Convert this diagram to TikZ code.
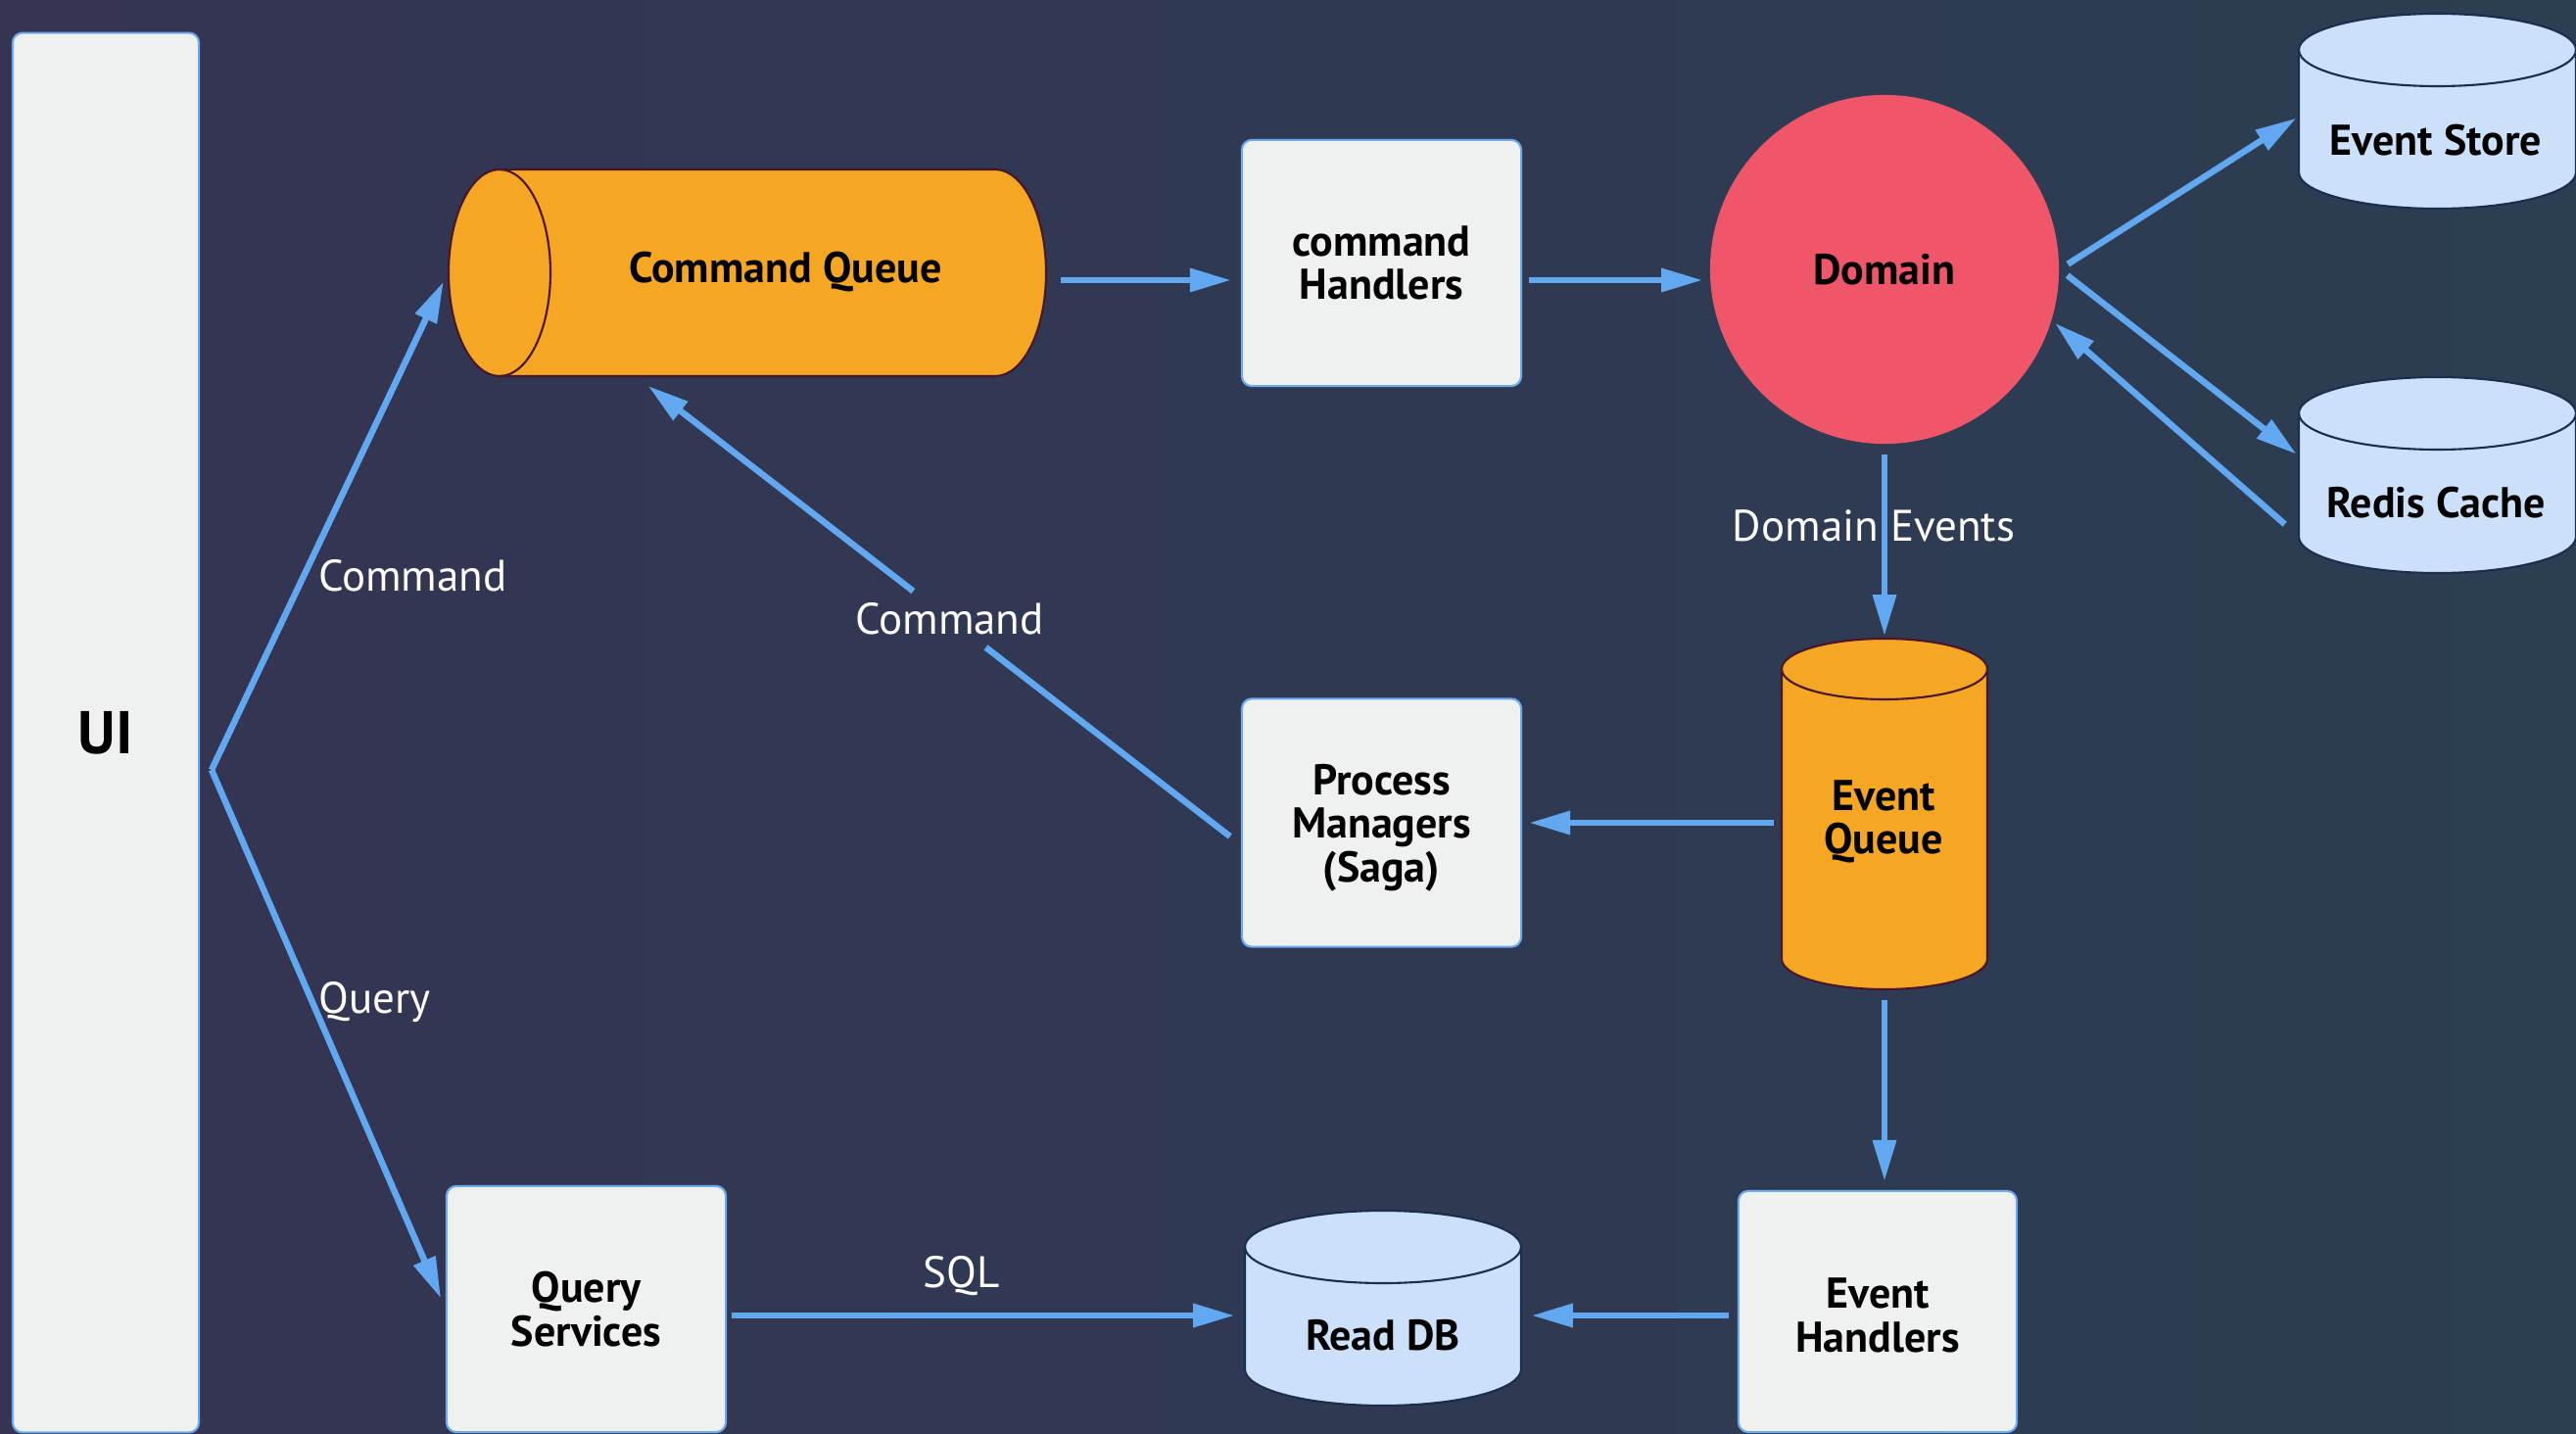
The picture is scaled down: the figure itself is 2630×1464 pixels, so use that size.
\documentclass[tikz,border=0pt]{standalone}
\usepackage{fontspec}
\setmainfont{PT Sans}
\usetikzlibrary{arrows.meta,calc}

\definecolor{bgleft}{RGB}{53,52,83}
\definecolor{bgright}{RGB}{43,62,82}
\definecolor{boxfill}{RGB}{239,241,240}
\definecolor{boxline}{RGB}{110,170,238}
\definecolor{orangefill}{RGB}{245,166,35}
\definecolor{orangeline}{RGB}{74,22,44}
\definecolor{dbfill}{RGB}{204,225,249}
\definecolor{dbline}{RGB}{26,46,78}
\definecolor{domainred}{RGB}{240,86,106}
\definecolor{flow}{RGB}{98,168,240}

% upright cylinder: style, centre x, top y, bottom y, x radius, y radius
\newcommand{\uprightcyl}[6]{%
  \path[#1] (#2-#5,#3+#6) -- (#2-#5,#4-#6)
    arc[start angle=180,end angle=0,x radius=#5,y radius=#6]
    -- (#2+#5,#3+#6)
    arc[start angle=0,end angle=-180,x radius=#5,y radius=#6] -- cycle;
  \path[#1,fill=none] (#2-#5,#3+#6)
    arc[start angle=180,end angle=0,x radius=#5,y radius=#6];
}

\begin{document}
\begin{tikzpicture}[x=0.01cm, y=-0.01cm,
  shapebox/.style={rectangle, inner sep=0pt, draw=none},
  nodetext/.style={text=black, align=center,
    font=\bfseries\fontsize{12.5}{12.6}\selectfont},
  box/.style={rectangle, rounded corners=0.1cm, draw=boxline,
    line width=0.6pt, fill=boxfill, inner sep=0pt, nodetext},
  orangecyl/.style={fill=orangefill, draw=orangeline, line width=0.6pt},
  dbcyl/.style={fill=dbfill, draw=dbline, line width=0.6pt},
  flowline/.style={draw=flow, line width=1.85pt},
  flowarrow/.style={flowline, -{Triangle[length=0.42cm, width=0.23cm]}},
  flowlabel/.style={text=white, font=\fontsize{12.8}{14}\selectfont}]

% canvas
\useasboundingbox (0,0) rectangle (2630,1464);
\shade[left color=bgleft, right color=bgright] (0,0) rectangle (2630,1464);

% UI column
\node[box, minimum width=1.90cm, minimum height=14.28cm,
  font=\bfseries\fontsize{17.5}{19}\selectfont] (ui) at (108,748) {UI};

% Command Queue (horizontal cylinder)
\path[orangecyl] (510,173) -- (1016,173)
  arc[start angle=-90,end angle=90,x radius=52,y radius=105.5]
  -- (510,384)
  arc[start angle=90,end angle=270,x radius=52,y radius=105.5] -- cycle;
\path[orangecyl,fill=none] (510,173)
  arc[start angle=-90,end angle=90,x radius=52,y radius=105.5];
\node[shapebox, minimum width=6.10cm, minimum height=2.11cm] (cq) at (763,278.5) {};
\node[nodetext] (cq-text) at (802,278) {Command Queue};

% handlers and managers
\node[box, minimum width=2.85cm, minimum height=2.51cm] (ch) at (1410.5,268.5) {command\\Handlers};
\node[box, minimum width=2.85cm, minimum height=2.53cm] (pm) at (1410.5,840) {};
\node[nodetext] (pm-text) at (1410.5,845) {Process\\Managers\\(Saga)};
\node[box, minimum width=2.85cm, minimum height=2.51cm] (qs) at (598.5,1336.5) {Query\\Services};
\node[box, minimum width=2.84cm, minimum height=2.46cm] (eh) at (1917,1339) {};
\node[nodetext] (eh-text) at (1917,1343) {Event\\Handlers};

% Domain
\node[circle, fill=domainred, minimum size=3.56cm, inner sep=0pt, nodetext] (dom) at (1924,275) {Domain};

% Event Store
\uprightcyl{dbcyl}{2488.5}{14}{213}{141.5}{37}
\node[shapebox, minimum width=2.83cm, minimum height=1.99cm] (es) at (2488.5,113.5) {};
\node[nodetext] (es-text) at (2487,143) {Event Store};

% Redis Cache
\uprightcyl{dbcyl}{2488.5}{385}{585}{141.5}{37}
\node[shapebox, minimum width=2.83cm, minimum height=2.00cm] (rc) at (2488.5,485) {};
\node[nodetext] (rc-text) at (2487,513) {Redis Cache};

% Event Queue
\uprightcyl{orangecyl}{1924}{652}{1010}{105}{31}
\node[shapebox, minimum width=2.10cm, minimum height=3.58cm] (eq) at (1924,831) {};
\node[nodetext] (eq-text) at (1923,839) {Event\\Queue};

% Read DB
\uprightcyl{dbcyl}{1412}{1236}{1435}{141}{37}
\node[shapebox, minimum width=2.82cm, minimum height=1.99cm] (rdb) at (1412,1335.5) {};
\node[nodetext] (rdb-text) at (1412,1363) {Read DB};

% connector rows and fork
\coordinate (fork) at (216,786);
\coordinate (row1) at (0,286);
\coordinate (row3) at (0,1343);

% UI fan-out
\draw[flowarrow, shorten >=0.1cm] (fork) --
  node[flowlabel, pos=0.39, anchor=west] (lbl-cmd1) {Command} (cq.west);
\draw[flowarrow, shorten >=0.12cm] (fork) --
  node[flowlabel, pos=0.43, anchor=west, xshift=-0.08cm] (lbl-query) {Query} (qs.west);

% command path
\draw[flowarrow, shorten <=0.14cm, shorten >=0.1cm] (cq.east |- row1) -- (ch.west |- row1);
\draw[flowarrow, shorten <=0.07cm, shorten >=0.07cm] (ch.east |- row1) -- (dom.west |- row1);

% domain to stores
\draw[flowarrow, shorten <=0.1cm, shorten >=0.02cm] (dom.east) -- ($(es.west)+(0,6)$);
\draw[flowarrow, shorten <=0.1cm, shorten >=0.02cm] (dom.east) -- ($(rc.west)+(0,-20)$);
\draw[flowarrow, shorten <=0.18cm, shorten >=0.04cm] ($(rc.west)+(0,62)$) -- (dom.-17.6);

% domain events
\draw[flowarrow, shorten <=0.1cm, shorten >=0.02cm] (dom.south) --
  node[flowlabel, pos=0.42, xshift=-0.11cm] (lbl-domev) {Domain Events} (eq.north);
\draw[flowarrow, shorten <=0.07cm, shorten >=0.07cm] (eq.west |- pm.east) -- (pm.east);
\draw[flowarrow, shorten <=0.1cm, shorten >=0.09cm] (eq.south) -- (eq.south |- eh.north);

% read side
\draw[flowarrow, shorten <=0.09cm, shorten >=0.1cm] (eh.west |- row3) -- (rdb.east |- row3);
\draw[flowarrow, shorten <=0.05cm, shorten >=0.1cm] (qs.east |- row3) --
  node[flowlabel, pos=0.453, above=0.05cm] (lbl-sql) {SQL} (rdb.west |- row3);

% saga issues commands
\coordinate (sagaout) at ($(pm.west)+(0,22.5)$);
\coordinate (cqin) at ($(cq.south west)!0.315!(cq.south east)$);
\node[flowlabel] (lbl-cmd2) at ($(sagaout)!0.482!(cqin)$) {Command};
\draw[flowline, shorten <=0.14cm] (sagaout) -- (lbl-cmd2);
\draw[flowarrow, shorten >=0.15cm] (lbl-cmd2) -- (cqin);

\end{tikzpicture}
\end{document}
